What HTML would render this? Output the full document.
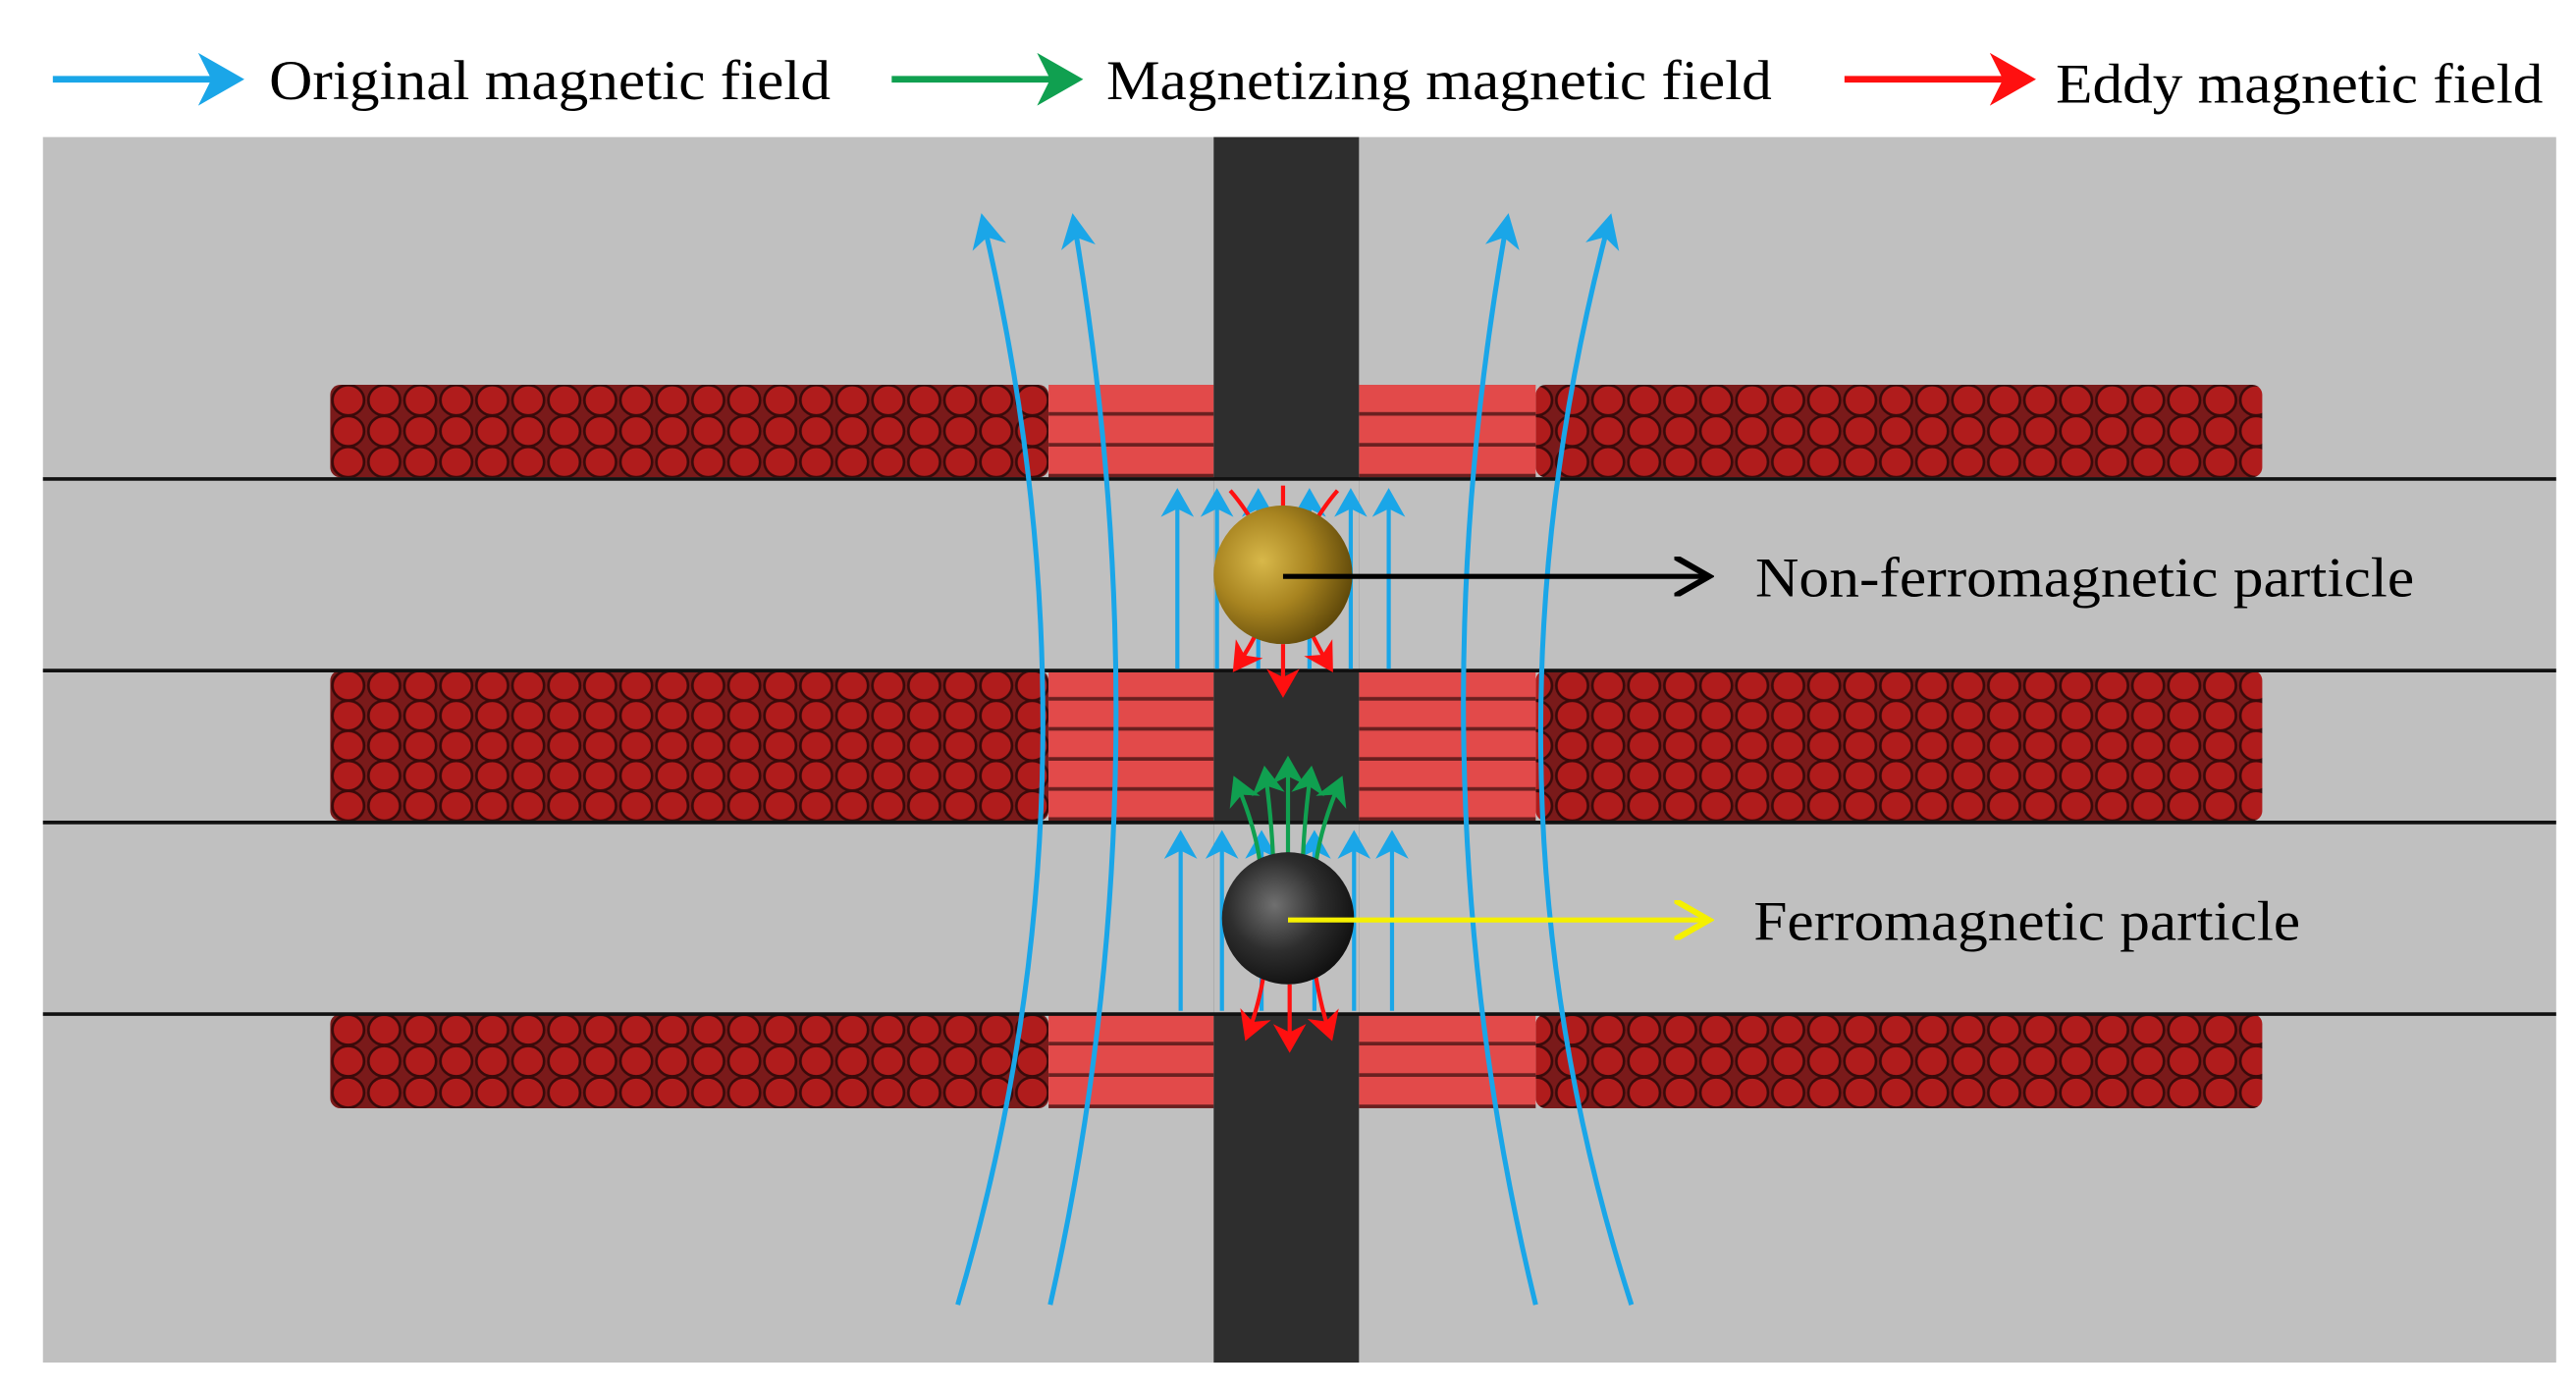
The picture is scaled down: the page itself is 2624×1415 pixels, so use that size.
<!DOCTYPE html>
<html><head><meta charset="utf-8"><style>
html,body{margin:0;padding:0;background:#fff;}
svg{display:block;}
text{font-family:"Liberation Serif",serif;}
</style></head><body>
<svg width="2624" height="1415" viewBox="0 0 1560 841" preserveAspectRatio="none" xmlns="http://www.w3.org/2000/svg">
<defs>
 <pattern id="c3" patternUnits="userSpaceOnUse" x="200" y="233" width="21.8" height="18.7">
  <rect width="21.8" height="18.7" fill="#7a1a1a"/>
  <ellipse cx="10.9" cy="9.35" rx="9.6" ry="9.2" fill="#b01c1c" stroke="#3a0a0a" stroke-width="1.6"/>
 </pattern>
 <pattern id="c5" patternUnits="userSpaceOnUse" x="200" y="406" width="21.8" height="18.2">
  <rect width="21.8" height="18.2" fill="#7a1a1a"/>
  <ellipse cx="10.9" cy="9.1" rx="9.6" ry="9" fill="#b01c1c" stroke="#3a0a0a" stroke-width="1.6"/>
 </pattern>
 <pattern id="c3b" patternUnits="userSpaceOnUse" x="200" y="614" width="21.8" height="19">
  <rect width="21.8" height="19" fill="#7a1a1a"/>
  <ellipse cx="10.9" cy="9.5" rx="9.6" ry="9.2" fill="#b01c1c" stroke="#3a0a0a" stroke-width="1.6"/>
 </pattern>
 <pattern id="s3" patternUnits="userSpaceOnUse" x="0" y="233" width="10" height="18.7">
  <rect width="10" height="18.7" fill="#e24a4a"/>
  <rect y="16.5" width="10" height="2.2" fill="#6a2020"/>
 </pattern>
 <pattern id="s5" patternUnits="userSpaceOnUse" x="0" y="406" width="10" height="18.2">
  <rect width="10" height="18.2" fill="#e24a4a"/>
  <rect y="16" width="10" height="2.2" fill="#6a2020"/>
 </pattern>
 <pattern id="s3b" patternUnits="userSpaceOnUse" x="0" y="614" width="10" height="19">
  <rect width="10" height="19" fill="#e24a4a"/>
  <rect y="16.8" width="10" height="2.2" fill="#6a2020"/>
 </pattern>
 <radialGradient id="gold" cx="0.35" cy="0.4" r="0.7">
  <stop offset="0" stop-color="#d8b84a"/><stop offset="0.5" stop-color="#a88420"/><stop offset="1" stop-color="#5a4408"/>
 </radialGradient>
 <radialGradient id="blk" cx="0.4" cy="0.4" r="0.7">
  <stop offset="0" stop-color="#707070"/><stop offset="0.5" stop-color="#2e2e2e"/><stop offset="1" stop-color="#0a0a0a"/>
 </radialGradient>
 <marker id="ab" markerWidth="8" markerHeight="8" refX="6" refY="4" orient="auto" markerUnits="strokeWidth"><path d="M0,0 L7,4 L0,8 L2,4 Z" fill="#1aa6e8"/></marker>
 <marker id="ab2" markerWidth="8" markerHeight="8" refX="6" refY="4" orient="auto" markerUnits="strokeWidth"><path d="M0,0.5 L7,4 L0,7.5 L2,4 Z" fill="#1aa6e8"/></marker>
 <marker id="ar" markerWidth="8" markerHeight="8" refX="6" refY="4" orient="auto" markerUnits="strokeWidth"><path d="M0,0 L7,4 L0,8 L2,4 Z" fill="#ff1010"/></marker>
 <marker id="ag" markerWidth="8" markerHeight="8" refX="6" refY="4" orient="auto" markerUnits="strokeWidth"><path d="M0,0 L7,4 L0,8 L2,4 Z" fill="#10a050"/></marker>
 <marker id="ak" markerWidth="8" markerHeight="8" refX="6" refY="4" orient="auto" markerUnits="strokeWidth"><path d="M0,0 L7,4 L0,8" fill="none" stroke="#000" stroke-width="1.2"/></marker>
 <marker id="ay" markerWidth="8" markerHeight="8" refX="6" refY="4" orient="auto" markerUnits="strokeWidth"><path d="M0,0 L7,4 L0,8" fill="none" stroke="#f5f000" stroke-width="1.2"/></marker>
</defs>

<!-- legend -->
<line x1="32" y1="48" x2="144" y2="48" stroke="#1aa6e8" stroke-width="4" marker-end="url(#ab)"/>
<text x="163" y="60" font-size="34" textLength="340" lengthAdjust="spacingAndGlyphs">Original magnetic field</text>
<line x1="540" y1="48" x2="652" y2="48" stroke="#10a050" stroke-width="4" marker-end="url(#ag)"/>
<text x="670" y="60" font-size="34" textLength="403" lengthAdjust="spacingAndGlyphs">Magnetizing magnetic field</text>
<line x1="1117" y1="48" x2="1229" y2="48" stroke="#ff1010" stroke-width="4" marker-end="url(#ar)"/>
<text x="1245" y="62" font-size="34" textLength="295" lengthAdjust="spacingAndGlyphs">Eddy magnetic field</text>

<!-- panel -->
<rect x="26" y="83" width="1522" height="742" fill="#c0c0c0"/>

<!-- coils -->
<rect x="200" y="233" width="435" height="56" rx="6" fill="url(#c3)"/>
<rect x="930" y="233" width="440" height="56" rx="6" fill="url(#c3)"/>
<rect x="635" y="233" width="100" height="56" fill="url(#s3)"/>
<rect x="823" y="233" width="107" height="56" fill="url(#s3)"/>

<rect x="200" y="406" width="435" height="91" rx="6" fill="url(#c5)"/>
<rect x="930" y="406" width="440" height="91" rx="6" fill="url(#c5)"/>
<rect x="635" y="406" width="100" height="91" fill="url(#s5)"/>
<rect x="823" y="406" width="107" height="91" fill="url(#s5)"/>

<rect x="200" y="614" width="435" height="57" rx="6" fill="url(#c3b)"/>
<rect x="930" y="614" width="440" height="57" rx="6" fill="url(#c3b)"/>
<rect x="635" y="614" width="100" height="57" fill="url(#s3b)"/>
<rect x="823" y="614" width="107" height="57" fill="url(#s3b)"/>

<!-- rod -->
<rect x="735" y="83" width="88" height="742" fill="#2e2e2e"/>
<rect x="735" y="290" width="88" height="116" fill="#c0c0c0"/>
<rect x="735" y="498" width="88" height="116" fill="#c0c0c0"/>

<!-- lines -->
<g stroke="#111" stroke-width="2.2">
<line x1="26" y1="290" x2="1548" y2="290"/>
<line x1="26" y1="406" x2="1548" y2="406"/>
<line x1="26" y1="498" x2="1548" y2="498"/>
<line x1="26" y1="614" x2="1548" y2="614"/>
</g>

<!-- long blue curves -->
<g fill="none" stroke="#1aa6e8" stroke-width="3">
<path d="M580,790 Q675,470 595,132" marker-end="url(#ab2)"/>
<path d="M636,790 Q708,470 650,132" marker-end="url(#ab2)"/>
<path d="M930,790 Q852,470 913,132" marker-end="url(#ab2)"/>
<path d="M988,790 Q885,470 975,132" marker-end="url(#ab2)"/>
</g>

<!-- short blue arrows -->
<g stroke="#1aa6e8" stroke-width="2.5">
<line x1="713" y1="405" x2="713" y2="298" marker-end="url(#ab)"/>
<line x1="737" y1="405" x2="737" y2="298" marker-end="url(#ab)"/>
<line x1="762" y1="405" x2="762" y2="298" marker-end="url(#ab)"/>
<line x1="793" y1="405" x2="793" y2="298" marker-end="url(#ab)"/>
<line x1="818" y1="405" x2="818" y2="298" marker-end="url(#ab)"/>
<line x1="841" y1="405" x2="841" y2="298" marker-end="url(#ab)"/>
<line x1="715" y1="612" x2="715" y2="505" marker-end="url(#ab)"/>
<line x1="740" y1="612" x2="740" y2="505" marker-end="url(#ab)"/>
<line x1="764" y1="612" x2="764" y2="505" marker-end="url(#ab)"/>
<line x1="796" y1="612" x2="796" y2="505" marker-end="url(#ab)"/>
<line x1="820" y1="612" x2="820" y2="505" marker-end="url(#ab)"/>
<line x1="843" y1="612" x2="843" y2="505" marker-end="url(#ab)"/>
</g>

<!-- red eddy arrows -->
<g fill="none" stroke="#ff1010" stroke-width="2.5">
<path d="M760,318 Q752,305 745,297"/>
<path d="M795,318 Q803,305 810,297"/>
<line x1="777" y1="310" x2="777" y2="294"/>
<path d="M760,385 Q755,395 748,405" marker-end="url(#ar)"/>
<path d="M795,385 Q800,395 806,405" marker-end="url(#ar)"/>
<line x1="777" y1="390" x2="777" y2="420" marker-end="url(#ar)"/>
<path d="M765,592 Q762,610 755,628" marker-end="url(#ar)"/>
<path d="M797,592 Q800,610 806,628" marker-end="url(#ar)"/>
<line x1="781" y1="596" x2="781" y2="635" marker-end="url(#ar)"/>
</g>

<!-- green arrows -->
<g fill="none" stroke="#10a050" stroke-width="2.5">
<path d="M763,522 Q760,500 748,472" marker-end="url(#ag)"/>
<path d="M771,520 Q770,495 766,466" marker-end="url(#ag)"/>
<line x1="780" y1="518" x2="780" y2="460" marker-end="url(#ag)"/>
<path d="M789,520 Q790,495 794,466" marker-end="url(#ag)"/>
<path d="M797,522 Q800,500 812,472" marker-end="url(#ag)"/>
</g>

<!-- particles -->
<ellipse cx="777" cy="348" rx="42" ry="42" fill="url(#gold)"/>
<ellipse cx="780" cy="556" rx="40" ry="40" fill="url(#blk)"/>

<!-- pointers -->
<line x1="777" y1="349" x2="1032" y2="349" stroke="#000" stroke-width="3" marker-end="url(#ak)"/>
<text x="1063" y="361" font-size="34" textLength="399" lengthAdjust="spacingAndGlyphs">Non-ferromagnetic particle</text>
<line x1="780" y1="557" x2="1032" y2="557" stroke="#f5f000" stroke-width="3" marker-end="url(#ay)"/>
<text x="1062" y="569" font-size="34" textLength="331" lengthAdjust="spacingAndGlyphs">Ferromagnetic particle</text>
</svg>
</body></html>
